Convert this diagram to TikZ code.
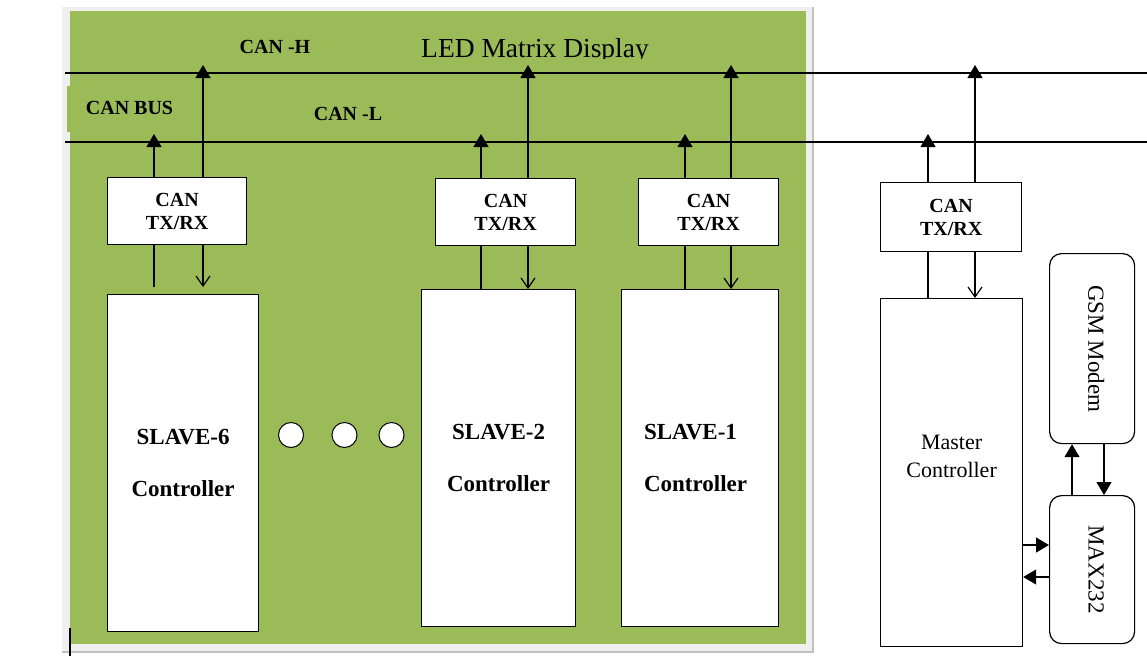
\documentclass[tikz,border=0pt]{standalone}
\usepackage{fontspec}
\setmainfont{Liberation Serif}
\newfontfamily\tnrfont{Liberation Serif}
\usetikzlibrary{arrows.meta,calc}
\definecolor{panelgreen}{HTML}{9BBB59}
\definecolor{panelframe}{HTML}{EFEFEF}
\definecolor{frameedge}{HTML}{BFC4BA}
\begin{document}
\begin{tikzpicture}[x=1pt,y=-1pt,
  lw/.style={line width=1.2pt},
  box/.style={draw,fill=white,lw,inner sep=0pt,anchor=north west,align=center},
  canbox/.style={box,minimum width=140pt,minimum height=67pt,font=\tnrfont\fontsize{20}{23}\selectfont\bfseries},
  rbox/.style={box,rounded corners=12pt,minimum width=85pt},
  lbl/.style={font=\tnrfont\fontsize{20}{23}\selectfont\bfseries,inner sep=0pt,anchor=base},
  slavetxt/.style={font=\tnrfont\fontsize{23}{52}\selectfont\bfseries,inner sep=0pt,align=center},
  regtxt/.style={font=\tnrfont\fontsize{22}{28}\selectfont,inner sep=0pt,align=center},
  bus/.style={lw},
  upar/.style={lw,-{Triangle[width=15pt,length=13pt]}},
  dnar/.style={lw,-{Straight Barb[width=14pt,length=10pt,line width=1.2pt]}},
  dot/.style={circle,draw,fill=white,line width=1pt,minimum size=25pt,inner sep=0pt},
]
\useasboundingbox (0,0) rectangle (1147,656);
\fill[white] (0,0) rectangle (1147,656);
% panel
\fill[panelframe] (62,7) rectangle (813,652);
\draw[frameedge,line width=2pt] (813,7) -- (813,652) -- (62,652);
\fill[panelgreen] (70,11) rectangle (806,644);
\fill[panelgreen] (67,86) rectangle (72,132);
\draw[line width=1.5pt] (70,628) -- (70,656);

% title (clipped at baseline)
\begin{scope}
\clip (380,20) rectangle (700,58.5);
\node[font=\tnrfont\fontsize{27.5}{30}\selectfont,inner sep=0pt,anchor=base] (title) at (535,57) {LED Matrix Display};
\end{scope}

% bus lines
\coordinate (HL) at (65,73);
\coordinate (HR) at (1147,73);
\coordinate (LL) at (65,142);
\coordinate (LR) at (1147,142);
\draw[bus] (HL) -- (HR);
\draw[bus] (LL) -- (LR);

\node[lbl] (canh) at (275,53) {CAN -H};
\node[lbl] (canbus) at (129.5,114) {CAN BUS};
\node[lbl] (canl) at (348,120) {CAN -L};

% CAN transceivers
\node[canbox,minimum width=139pt] (c6) at (107,177) {CAN\\TX/RX};
\node[canbox] (c2) at (435,178) {CAN\\TX/RX};
\node[canbox] (c1) at (638,178) {CAN\\TX/RX};
\node[canbox,minimum width=141pt,minimum height=69pt] (cm) at (880,182) {CAN\\TX/RX};

% controllers
\node[box,minimum width=151pt,minimum height=337pt] (s6) at (107,294) {};
\node[box,minimum width=154pt,minimum height=337pt] (s2) at (421,289) {};
\node[box,minimum width=157pt,minimum height=337pt] (s1) at (621,289) {};
\node[box,minimum width=142pt,minimum height=348pt] (mc) at (880,298) {};
\node[slavetxt] (s6t) at (s6.center) {SLAVE-6\\Controller};
\node[slavetxt] (s2t) at (s2.center) {SLAVE-2\\Controller};
\node[slavetxt,align=left] (s1t) at ([xshift=-4.5pt]s1.center) {SLAVE-1\\Controller};
\node[regtxt] (mct) at ([yshift=16pt]mc.center) {Master\\Controller};

% dots
\node[dot] (d1) at (291,435) {};
\node[dot] (d2) at (344.5,435) {};
\node[dot] (d3) at (391.5,435) {};

% GSM and MAX232
\node[rbox,minimum height=190pt] (gsm) at (1049,253) {};
\node[rbox,minimum height=148pt] (max) at (1049,495) {};
\node[regtxt,rotate=-90,font=\tnrfont\fontsize{23}{28}\selectfont] (gsmt) at ([xshift=4pt]gsm.center) {GSM Modem};
\node[regtxt,rotate=-90,font=\tnrfont\fontsize{23}{28}\selectfont] (maxt) at ([xshift=4pt]max.center) {MAX232};

% line x positions
\coordinate (x6a) at ([xshift=47pt]c6.north west);
\coordinate (x6b) at ([xshift=96pt]c6.north west);
\coordinate (x2a) at ([xshift=46pt]c2.north west);
\coordinate (x2b) at ([xshift=93pt]c2.north west);
\coordinate (x1a) at ([xshift=47pt]c1.north west);
\coordinate (x1b) at ([xshift=93pt]c1.north west);
\coordinate (xma) at ([xshift=48pt]cm.north west);
\coordinate (xmb) at ([xshift=95pt]cm.north west);

% up to bus
\foreach \a/\b in {x6a/x6b,x2a/x2b,x1a/x1b,xma/xmb}{
  \draw[upar,shorten >=-8pt] (\a) -- (\a |- LL);
  \draw[upar,shorten >=-8pt] (\b) -- (\b |- HL);
}

% down to controllers
\draw[lw] (c6.south -| x6a) -- ([yshift=7pt]s6.north -| x6a);
\draw[dnar] (c6.south -| x6b) -- ([yshift=7pt]s6.north -| x6b);
\draw[lw] (c2.south -| x2a) -- (s2.north -| x2a);
\draw[dnar] (c2.south -| x2b) -- (s2.north -| x2b);
\draw[lw] (c1.south -| x1a) -- (s1.north -| x1a);
\draw[dnar] (c1.south -| x1b) -- (s1.north -| x1b);
\draw[lw] (cm.south -| xma) -- (mc.north -| xma);
\draw[dnar] (cm.south -| xmb) -- (mc.north -| xmb);

% GSM <-> MAX232
\coordinate (gx1) at ([xshift=23pt]max.north west);
\coordinate (gx2) at ([xshift=55pt]max.north west);
\draw[upar] (gx1) -- (gx1 |- gsm.south);
\draw[upar] (gsm.south -| gx2) -- (gx2);

% Master <-> MAX232
\coordinate (my1) at (1022,545);
\coordinate (my2) at (1022,577);
\draw[upar] (my1 -| mc.east) -- (my1 -| max.west);
\draw[upar] (my2 -| max.west) -- (my2 -| mc.east);
\end{tikzpicture}
\end{document}
